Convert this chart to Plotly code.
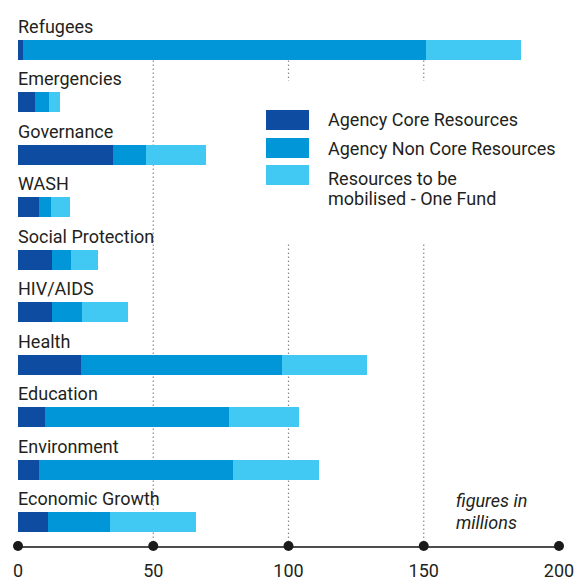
import plotly.graph_objects as go

categories = ["Refugees", "Emergencies", "Governance", "WASH", "Social Protection",
              "HIV/AIDS", "Health", "Education", "Environment", "Economic Growth"]
core = [2.0, 6.3, 35.0, 7.8, 12.6, 12.6, 23.3, 10.0, 7.8, 11.1]
non_core = [148.8, 5.2, 12.3, 4.4, 7.0, 11.1, 74.3, 68.0, 71.7, 22.9]
one_fund = [35.1, 4.0, 22.2, 7.0, 10.0, 17.0, 31.4, 25.8, 31.7, 31.8]

series_names = ["Agency Core Resources", "Agency Non Core Resources",
                "Resources to be mobilised - One Fund"]
legend_lines = [["Agency Core Resources"], ["Agency Non Core Resources"],
                ["Resources to be", "mobilised - One Fund"]]
colors = ["#0e4ca1", "#0096d7", "#41c8f3"]

tick_vals = [0, 50, 100, 150, 200]
grid_vals = [50, 100, 150]

W, H = 574, 581
ML, MR, MT, MB = 18, 15, 40, 35
PW, PH = W - ML - MR, H - MT - MB
FONT = "Roboto"
TXT = "#231f20"


def fx(xpx):
    return (xpx - ML) / PW


def fy(ypx):
    return (H - MB - ypx) / PH


fig = go.Figure()
for vals, name, col in zip([core, non_core, one_fund], series_names, colors):
    fig.add_trace(go.Bar(y=categories, x=vals, name=name, orientation="h",
                         marker=dict(color=col, line=dict(width=0)),
                         width=0.382, showlegend=False))

# axis dots
fig.add_trace(go.Scatter(x=tick_vals, y=[0] * len(tick_vals), yaxis="y2", mode="markers",
                         marker=dict(size=10, color="#1a1a1a"), cliponaxis=False,
                         showlegend=False, hoverinfo="skip"))

shapes = []
for g in grid_vals:
    shapes.append(dict(type="line", xref="x", yref="paper", x0=g, x1=g, y0=0, y1=1,
                       layer="below", line=dict(color="#8a8a8a", width=1.2, dash="1.5px,2.5px")))
# legend background
shapes.append(dict(type="rect", xref="paper", yref="paper", x0=fx(255), x1=fx(574),
                   y0=fy(243), y1=fy(81), fillcolor="white", line=dict(width=0), layer="below"))

annotations = []
for c in categories:
    annotations.append(dict(x=0, y=c, xref="x", yref="y", text=c, showarrow=False,
                            xanchor="left", yanchor="bottom", xshift=-2, yshift=11,
                            font=dict(family=FONT, size=18, color=TXT)))

row_tops = [110, 138, 165]
for top, lines, col in zip(row_tops, legend_lines, colors):
    shapes.append(dict(type="rect", xref="paper", yref="paper", x0=fx(266), x1=fx(309),
                       y0=fy(top + 20), y1=fy(top), fillcolor=col, line=dict(width=0),
                       layer="above"))
    if len(lines) == 1:
        annotations.append(dict(x=fx(327), y=fy(top + 10), xref="paper", yref="paper",
                                text=lines[0], showarrow=False, xanchor="left", yanchor="middle",
                                borderpad=0, font=dict(family=FONT, size=18, color=TXT)))
    else:
        for i, ln in enumerate(lines):
            annotations.append(dict(x=fx(327), y=fy(top + 13 + 21 * i), xref="paper", yref="paper",
                                    text=ln, showarrow=False, xanchor="left", yanchor="middle",
                                    borderpad=0, font=dict(family=FONT, size=18, color=TXT)))

annotations.append(dict(x=fx(455), y=fy(500), xref="paper", yref="paper",
                        text="<i>figures in</i>", showarrow=False, xanchor="left", yanchor="middle",
                        borderpad=0, font=dict(family=FONT, size=18, color=TXT)))
annotations.append(dict(x=fx(455), y=fy(522), xref="paper", yref="paper",
                        text="<i>millions</i>", showarrow=False, xanchor="left", yanchor="middle",
                        borderpad=0, font=dict(family=FONT, size=18, color=TXT)))

fig.update_layout(
    width=W, height=H, margin=dict(l=ML, r=MR, t=MT, b=MB, autoexpand=False),
    paper_bgcolor="white", plot_bgcolor="white",
    barmode="stack", showlegend=False,
    xaxis=dict(range=[0, 200], tickvals=tick_vals, ticks="", showgrid=False, zeroline=False,
               showline=True, linecolor="#4d4d4d", linewidth=2, layer="below traces",
               automargin=False, ticklabeloverflow="allow",
               ticklabelstandoff=7, tickfont=dict(family=FONT, size=18, color=TXT)),
    yaxis=dict(type="category", categoryorder="array", categoryarray=categories,
               range=[9.458, -0.191], visible=False, automargin=False),
    yaxis2=dict(overlaying="y", range=[0, 1], visible=False, automargin=False),
    shapes=shapes, annotations=annotations,
    font=dict(family=FONT, size=18, color=TXT),
)

fig.write_html("out.html", config={"displayModeBar": False},
               post_script="document.body.style.margin='0';document.body.style.overflow='hidden';")
